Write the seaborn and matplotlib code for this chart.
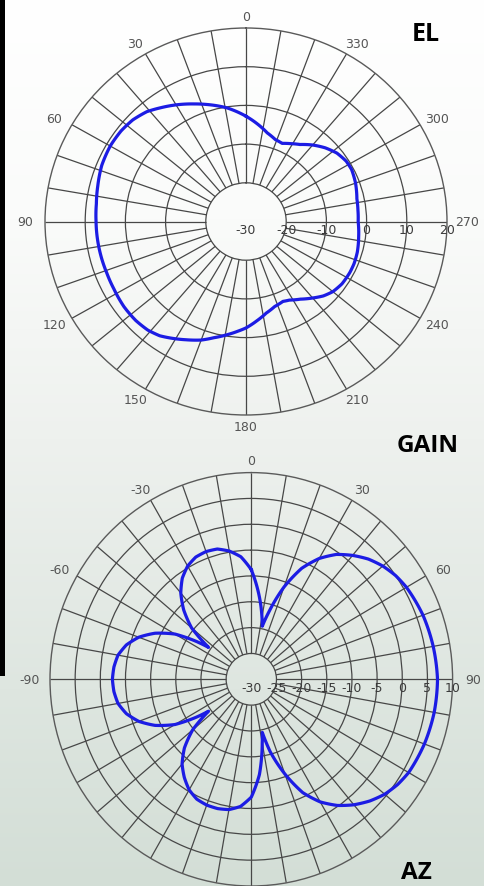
import numpy as np
import matplotlib
matplotlib.use("Agg")
import matplotlib.pyplot as plt
import seaborn as sns
from matplotlib.patches import Rectangle

# Elevation cut: angle counter-clockwise from zenith (deg), gain (dB)
el_angle = [0, 9, 18, 23, 30, 36, 41, 47, 53, 60, 68, 76, 83, 90, 100, 111,
            118, 126, 133, 139, 144, 148, 154, 160, 165, 171, 176, 180, 186,
            192, 198, 204, 208, 214, 220, 225, 230, 236, 243, 248, 254, 262,
            270, 276, 282, 290, 297, 302, 308, 314, 320, 326, 331, 336, 341,
            347, 353, 360]
el_gain = [-2.8, -0.3, 1.8, 3.0, 4.8, 6.3, 7.6, 8.5, 8.9, 9.0, 8.7, 8.0, 7.5,
           7.3, 7.2, 7.1, 7.2, 7.5, 7.5, 7.2, 6.5, 5.5, 4.0, 2.6, 1.1, -0.4,
           -1.6, -2.5, -4.2, -5.8, -6.9, -7.4, -7.0, -5.8, -4.2, -2.8, -1.8,
           -1.2, -1.0, -1.0, -1.2, -1.7, -2.1, -2.0, -1.8, -1.0, -0.5, -0.6,
           -1.3, -2.6, -4.2, -6.0, -7.0, -7.9, -7.6, -6.5, -4.8, -2.8]

# Azimuth cut: angle clockwise from boresight (deg), gain (dB)
az_angle = [0, 5, 10, 12, 15, 20, 25, 30, 35, 40, 45, 50, 55, 60, 70, 80, 90,
            100, 110, 120, 125, 130, 135, 140, 145, 150, 155, 160, 165, 168,
            170, 175, 180, 185, 190, 195, 200, 205, 210, 215, 220, 225, 230,
            234, 236, 240, 245, 250, 255, 260, 265, 270, 275, 280, 285, 290,
            295, 300, 304, 306, 310, 315, 320, 325, 330, 335, 340, 345, 350,
            355, 360]
az_gain = [-8.8, -13.3, -17.8, -19.5, -16.5, -11.0, -6.3, -3.0, -0.5, 1.3,
           2.9, 4.1, 5.0, 5.6, 6.3, 6.7, 7.0, 6.9, 6.6, 6.1, 5.5, 4.6, 3.3,
           1.7, -0.2, -2.6, -5.8, -10.5, -15.5, -19.5, -17.5, -11.5, -7.2,
           -5.3, -4.4, -4.1, -4.1, -4.4, -5.3, -6.8, -8.6, -11.2, -14.8, -19.5,
           -17.0, -12.5, -8.9, -6.2, -4.3, -3.1, -2.6, -2.4, -2.6, -3.1, -4.3,
           -6.2, -8.9, -12.5, -17.0, -19.5, -14.5, -11.0, -8.2, -6.1, -4.7,
           -3.9, -3.7, -3.9, -4.8, -6.2, -8.8]

# Angle labels and radial scale labels
el_tick_angles = [0, 30, 60, 90, 120, 150, 180, 210, 240, 270, 300, 330]
el_tick_labels = ["0", "30", "60", "90", "120", "150", "180", "210", "240",
                  "270", "300", "330"]
el_rings = [-20, -10, 0, 10]
el_scale = [-30, -20, -10, 0, 10, 20]

az_tick_angles = [-90, -60, -30, 0, 30, 60, 90]
az_tick_labels = ["-90", "-60", "-30", "0", "30", "60", "90"]
az_rings = [-25, -20, -15, -10, -5, 0, 5]
az_scale = [-30, -25, -20, -15, -10, -5, 0, 5, 10]

W, H = 484, 887
BLUE = "#1c1ce4"
GRID = "#474747"
LABEL = "#555555"

fig = plt.figure(figsize=(W / 100, H / 100), dpi=100)
fig.patch.set_facecolor("white")

# Soft vertical background gradient plus the dark edge strip
bg = fig.add_axes([0, 0, 1, 1], zorder=-10)
ys = np.arange(H)
stops_y = [0, 220, 440, 690, 887]
stops_c = np.array([[255, 255, 255], [250, 251, 250], [238, 241, 238],
                    [222, 230, 224], [211, 222, 214]]) / 255.0
grad = np.stack([np.interp(ys, stops_y, stops_c[:, k]) for k in range(3)], axis=1)
grad = np.repeat(grad[:, None, :], 8, axis=1)
bg.imshow(grad, aspect="auto", extent=[0, 1, 0, 1], interpolation="bilinear")
bg.add_patch(Rectangle((0, 1 - 677 / H), 4.5 / W, 677 / H, color="black", lw=0))
bg.set_xlim(0, 1)
bg.set_ylim(0, 1)
bg.axis("off")


def pattern_axes(rect, direction):
    ax = fig.add_axes(rect, projection="polar")
    ax.set_theta_zero_location("N")
    ax.set_theta_direction(direction)
    ax.set_facecolor("none")
    ax.set_aspect("auto")
    return ax


def draw_pattern(ax, angle, gain):
    sns.lineplot(x=np.deg2rad(angle), y=gain, ax=ax, sort=False,
                 estimator=None, color=BLUE, linewidth=2.3, zorder=4)
    # follow the polar geometry between samples instead of straight chords
    line = ax.lines[-1]
    line.get_path()._interpolation_steps = 12


def finish_axes(ax, rmin, rmax, rings, tick_angles, tick_labels, scale,
                direction, label_side):
    ax.set_ylim(rmin, rmax)
    ax.set_xticks([])
    ax.set_yticks(rings)
    ax.set_yticklabels([])
    ax.xaxis.grid(False)
    ax.yaxis.grid(True, color=GRID, lw=0.9)
    ax.set_xlabel("")
    ax.set_ylabel("")
    spokes = np.deg2rad(np.arange(0, 360, 10))
    ax.vlines(spokes, rings[0], rmax, color=GRID, lw=0.9, zorder=1)
    ax.spines["polar"].set_color("#5a5a5a")
    ax.spines["polar"].set_linewidth(1.0)
    # angle labels just outside the rim
    for a, t in zip(tick_angles, tick_labels):
        th = np.deg2rad(a)
        x = 0.5 + 0.5 * 1.10 * np.sin(th) * (-direction)
        y = 0.5 + 0.5 * 1.06 * np.cos(th)
        ax.text(x, y, t, transform=ax.transAxes, ha="center", va="center",
                fontsize=9, color=LABEL, family="DejaVu Sans", clip_on=False)
    # radial scale labels along the horizontal axis
    for v in scale:
        ax.annotate(str(v), xy=(np.deg2rad(label_side), v),
                    xytext=(0, -8), textcoords="offset pixels",
                    ha="center", va="center", fontsize=9, color="#3a3a3a",
                    family="DejaVu Sans", zorder=5)


# Elevation pattern (top)
ax1 = pattern_axes([45 / W, 1 - 416 / H, 402 / W, 387 / H], 1)
draw_pattern(ax1, el_angle, el_gain)
finish_axes(ax1, -30, 20, el_rings, el_tick_angles, el_tick_labels, el_scale,
            1, 270)

# Azimuth pattern (bottom)
ax2 = pattern_axes([50 / W, 0.0, 402.6 / W, 413.4 / H], -1)
draw_pattern(ax2, az_angle, az_gain)
finish_axes(ax2, -30, 10, az_rings, az_tick_angles, az_tick_labels, az_scale,
            -1, 90)

# Panel captions
cap = dict(ha="center", va="baseline", fontweight="bold", color="black",
           family="Open Sans")
fig.text(425.5 / W, 1 - 40.7 / H, "EL", fontsize=18, **cap)
fig.text(427.5 / W, 1 - 451.7 / H, "GAIN", fontsize=17.5, **cap)
fig.text(416.7 / W, 1 - 879.5 / H, "AZ", fontsize=17.5, **cap)

fig.savefig("out.png", dpi=100)
